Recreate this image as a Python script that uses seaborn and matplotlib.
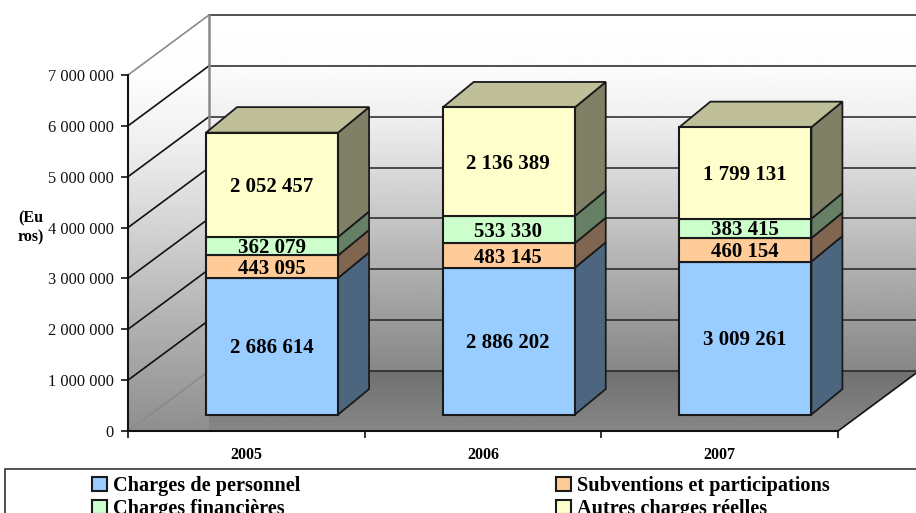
import matplotlib
matplotlib.use("Agg")
import matplotlib.pyplot as plt
import numpy as np
import seaborn as sns
from matplotlib.patches import Polygon, Rectangle
from matplotlib.ticker import FuncFormatter
from matplotlib.transforms import Affine2D

years = ["2005", "2006", "2007"]
personnel = [2686614, 2886202, 3009261]
subventions = [443095, 483145, 460154]
financieres = [362079, 533330, 383415]
autres = [2052457, 2136389, 1799131]

series_names = ["Charges de personnel", "Subventions et participations",
                "Charges financières", "Autres charges réelles"]
series_values = [personnel, subventions, financieres, autres]
stack_order = [0, 1, 2, 3]
legend_order = [0, 2, 1, 3]   # the legend fills column by column
face_colors = ["#99CCFF", "#FFCC99", "#CCFFCC", "#FFFFCC"]
side_colors = ["#4D6680", "#806650", "#668066", "#808066"]
top_color = "#BFBF99"
y_ticks = [0, 1000000, 2000000, 3000000, 4000000, 5000000, 6000000, 7000000]

# Grey ramp of the walls, top to bottom
ramp_pos = [0.0, 0.14, 0.285, 0.43, 0.575, 0.715, 0.855, 1.0]
ramp_grey = [1.0, 0.988, 0.94, 0.86, 0.775, 0.69, 0.61, 0.53]

W, H = 916, 513
WALL_DX, WALL_DY = 81, 60    # depth of the chart box, in pixels
BAR_DX, BAR_DY = 25.7, 16.4  # shift of the bar fronts behind the front plane
SIDE_DX, SIDE_DY = 31, 25.5  # depth of each bar
EDGE = "#1a1a1a"

sns.set_theme(style="white", rc={"font.family": ["Liberation Serif"], "text.color": "black"})
plt.rcParams["font.family"] = ["Liberation Serif", "DejaVu Serif"]

fig = plt.figure(figsize=(W / 100, H / 100), dpi=100, facecolor="white")

# Pixel-aligned canvas behind the chart for the walls and floor
bg = fig.add_axes([0, 0, 1, 1], zorder=0)
bg.set_xlim(0, W)
bg.set_ylim(0, H)
bg.axis("off")

ax = fig.add_axes([128 / W, (H - 431) / H, 710 / W, 356 / H], zorder=1)
ax.patch.set_alpha(0)


def fixed_offset(dx, dy):
    return ax.transData + Affine2D().translate(dx, dy)


def stacked_bars():
    bottoms = np.zeros(len(years))
    for i in stack_order:
        sns.barplot(x=years, y=series_values[i], bottom=bottoms, ax=ax, width=0.558,
                    color=face_colors[i], saturation=1, label=series_names[i],
                    edgecolor=EDGE, linewidth=1.5, zorder=4, legend=False)
        bottoms = bottoms + np.array(series_values[i])


stacked_bars()
ax.set_xlim(-0.5, 2.5)
ax.set_ylim(0, 7000000)


def px(x, y):
    return ax.transData.transform((x, y))


def gradient(poly, y_top, y_bottom, values):
    data = np.asarray(values).reshape(-1, 1)
    patch = Polygon(poly, closed=True, transform=bg.transData, facecolor="none", edgecolor="none")
    bg.add_patch(patch)
    im = bg.imshow(data, cmap="gray", vmin=0, vmax=1, aspect="auto", origin="upper",
                   extent=(0, W, y_bottom, y_top), zorder=1)
    im.set_clip_path(patch)
    bg.set_xlim(0, W)
    bg.set_ylim(0, H)


front_bl = px(-0.5, 0)
front_br = px(2.5, 0)
front_tl = px(-0.5, 7000000)
depth = np.array([WALL_DX, WALL_DY])
back_bl, back_tl = front_bl + depth, front_tl + depth
back_br = front_br + depth
far_right = W + 5

# Side wall, back wall and floor
steps = np.linspace(0, 1, 256)
wall_ramp = np.interp(steps, ramp_pos, ramp_grey)
gradient([front_tl, back_tl, (back_bl[0], front_bl[1]), front_bl],
         back_tl[1], front_bl[1], wall_ramp + 0.03 * steps)
gradient([back_tl, (far_right, back_tl[1]), (far_right, back_bl[1]), back_bl],
         back_tl[1], back_bl[1], wall_ramp)
gradient([back_bl, back_br, front_br, (back_bl[0], front_bl[1])],
         back_bl[1], front_bl[1], np.interp(steps, [0, 1], [0.44, 0.53]))

# Gridlines on the back wall and across the side wall
for v in y_ticks:
    p0, p1 = px(-0.5, v), px(-0.5, v) + depth
    wall_color = "#8a8a8a" if v in (0, 7000000) else "#111111"
    bg.plot([p0[0], p1[0]], [p0[1], p1[1]], color=wall_color, lw=1.2, zorder=2)
    bg.plot([p1[0], far_right], [p1[1], p1[1]], color="#222222", lw=1.1, zorder=2)
bg.plot([back_bl[0], back_tl[0]], [back_bl[1], back_tl[1]], color="#8a8a8a", lw=1.8, zorder=2)
bg.plot([front_br[0], far_right], [front_br[1], front_br[1] + (far_right - front_br[0]) * WALL_DY / WALL_DX],
        color="#111111", lw=1.2, zorder=2)

# Move the bar fronts behind the front plane, then add their sides and tops
shift = fixed_offset(BAR_DX, BAR_DY)
for bars in ax.containers:
    for bar in bars:
        bar.set_transform(shift)
        bar.set_clip_on(False)

side_vec = np.array([SIDE_DX, SIDE_DY])
bar_shift = np.array([BAR_DX, BAR_DY])
for k, i in enumerate(stack_order):
    for bar in ax.containers[k]:
        x1 = bar.get_x() + bar.get_width()
        x0 = bar.get_x()
        y0, y1 = bar.get_y(), bar.get_y() + bar.get_height()
        a, b = px(x1, y0) + bar_shift, px(x1, y1) + bar_shift
        bg.add_patch(Polygon([a, b, b + side_vec, a + side_vec], closed=True,
                             facecolor=side_colors[i], edgecolor=EDGE, lw=1.3, zorder=3))
        if i == stack_order[-1]:
            c = px(x0, y1) + bar_shift
            bg.add_patch(Polygon([c, b, b + side_vec, c + side_vec], closed=True,
                                 facecolor=top_color, edgecolor=EDGE, lw=1.3, zorder=3))

# Value labels centred on each segment
label_shift = fixed_offset(BAR_DX - 0.5, BAR_DY - 2)
for k, i in enumerate(stack_order):
    for bar, value in zip(ax.containers[k], series_values[i]):
        ax.text(bar.get_x() + bar.get_width() / 2, bar.get_y() + bar.get_height() / 2,
                f"{value:,}".replace(",", " "), transform=label_shift, ha="center", va="center",
                fontsize=15, fontweight="bold", color="black", zorder=6)

# Axes
sns.despine(ax=ax)
for side in ("left", "bottom"):
    ax.spines[side].set_color("#111111")
    ax.spines[side].set_linewidth(1.5)
ax.set_yticks(y_ticks)
ax.yaxis.set_major_formatter(FuncFormatter(lambda v, _: f"{int(v):,}".replace(",", " ")))
ax.tick_params(axis="y", left=True, length=5, width=1.2, color="#111111", pad=5,
               labelsize=11.8, labelcolor="#111111")
ax.set_xticks(range(len(years)), years)
ax.set_xticks(np.arange(-0.5, len(years)), minor=True)
ax.tick_params(axis="x", which="major", length=0, pad=11.5, labelsize=11.5, labelcolor="black")
ax.tick_params(axis="x", which="minor", bottom=True, length=5, width=1.2, color="#111111")
for label in ax.get_xticklabels():
    label.set_fontweight("bold")
ax.set_xlabel("")
ax.set_ylabel("")
fig.text(31 / W, (H - 228) / H, "(Eu\nros)", ha="center", va="center",
         fontsize=11.5, fontweight="bold", color="black", linespacing=1.2)

# Legend inside a frame that runs past the lower and right edges of the figure
fig.add_artist(Rectangle((5 / W, -0.1), 1.05, 0.1 + (H - 469) / H, transform=fig.transFigure,
                         facecolor="white", edgecolor="#333333", lw=1.2, zorder=2))
handles = [ax.containers[stack_order.index(i)][0] for i in legend_order]
fig.legend(handles, [series_names[i] for i in legend_order], ncol=2, frameon=False,
           loc="upper left", bbox_to_anchor=(92 / W, (H - 476) / H), borderpad=0,
           borderaxespad=0, handlelength=0.75, handleheight=0.7, handletextpad=0.3,
           columnspacing=12.6, labelspacing=0.16,
           prop={"weight": "bold", "size": 14.6}).set_zorder(3)

fig.savefig("out.png", dpi=100)
